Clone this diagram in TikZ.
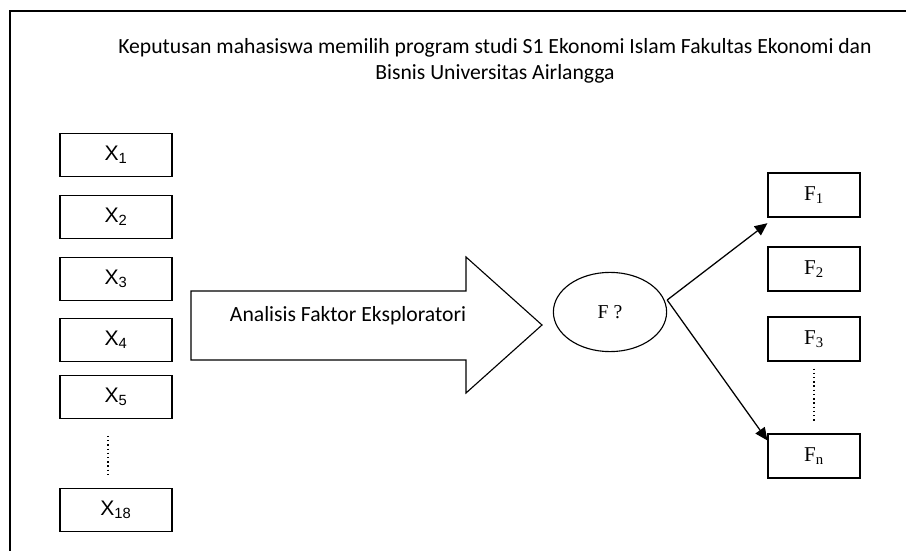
\documentclass[tikz,border=0pt]{standalone}
\usepackage{fontspec}
\setmainfont{Carlito}
\newfontfamily\xfont{Liberation Sans}
\newfontfamily\ffont{Liberation Serif}
\usetikzlibrary{arrows.meta,positioning,shapes.geometric}
\tikzset{
  xbox/.style={draw, line width=0.8pt, minimum width=2.8cm, minimum height=1.07cm, font=\xfont\fontsize{15}{17}\selectfont},
  fbox/.style={draw, line width=0.8pt, minimum width=2.3cm, minimum height=1.1cm, font=\ffont\fontsize{15}{17}\selectfont},
  link/.style={-{Triangle[length=9pt,width=8pt]}, line width=0.9pt}
}
\begin{document}
\begin{tikzpicture}[x=0.025cm,y=-0.025cm]
  \useasboundingbox (0,0) rectangle (906,551);
  % frame
  \draw[line width=0.9pt] (906,11) -- (10,11) -- (10,551);
  % title
  \node[align=center, font=\fontsize{15.4}{18}\selectfont] (title) at (495,61)
    {Keputusan mahasiswa memilih program studi S1 Ekonomi Islam Fakultas Ekonomi dan\\
     Bisnis Universitas Airlangga};
  % variables
  \node[xbox] (x1) at (116,155) {X\textsubscript{1}};
  \node[xbox] (x2) at (116,217) {X\textsubscript{2}};
  \node[xbox] (x3) at (116,279) {X\textsubscript{3}};
  \node[xbox] (x4) at (116,340) {X\textsubscript{4}};
  \node[xbox] (x5) at (116,397) {X\textsubscript{5}};
  \node[xbox] (x18) at (116,510) {X\textsubscript{18}};
  \draw[dotted, line width=1pt] ([yshift=-12pt]x5.south -| 108,0) -- ([yshift=8pt]x18.north -| 108,0);
  % big arrow
  \draw[line width=0.8pt] (191,291) -- (466,291) -- (466,257) -- (542,325)
    -- (466,393) -- (466,360) -- (191,360) -- cycle;
  \node[anchor=west, font=\fontsize{15.4}{18}\selectfont] (afe) at (225,316) {Analisis Faktor Eksploratori};
  % factor
  \node[draw, ellipse, line width=0.8pt, minimum width=2.83cm, minimum height=1.98cm,
    font=\ffont\fontsize{14}{16}\selectfont] (f) at (610,312) {F ?};
  % factors found
  \node[fbox] (f1) at (814,195) {F\textsubscript{1}};
  \node[fbox] (f2) at (814,269) {F\textsubscript{2}};
  \node[fbox] (f3) at (814,339) {F\textsubscript{3}};
  \node[fbox] (fn) at (814,456) {F\textsubscript{n}};
  \draw[dotted, line width=1pt] ([yshift=-5pt]f3.south) -- ([yshift=-42pt]f3.south);
  \draw[link] (f.east) ++(0,-12) coordinate (fe) -- ([yshift=-4pt]f1.south west);
  \draw[link] (fe) -- ([yshift=-5pt]fn.north west);
\end{tikzpicture}
\end{document}
